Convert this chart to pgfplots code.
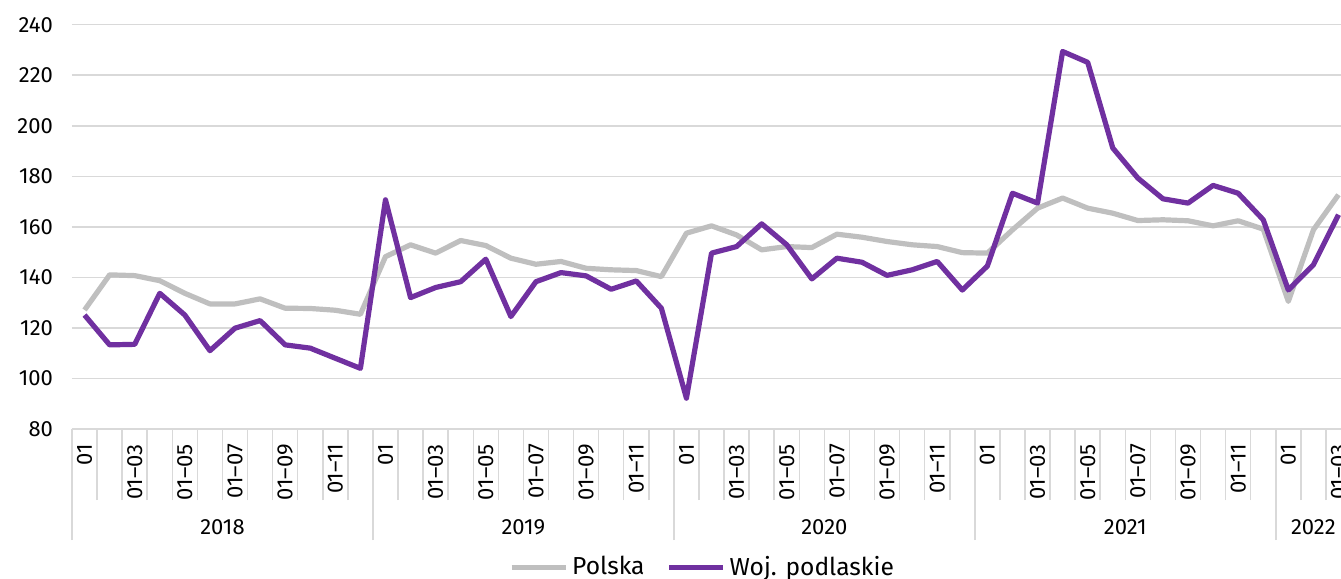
\documentclass[border=0pt]{standalone}
\usepackage{fontspec}
\setmainfont{Fira Sans}
\usepackage{pgfplots}
\pgfplotsset{compat=1.18}

\definecolor{pl}{HTML}{BFBFBF}
\definecolor{podl}{HTML}{7030A0}
\definecolor{gridc}{HTML}{D9D9D9}

\begin{document}
\begin{tikzpicture}
\begin{axis}[
  at={(0,0)}, anchor=south west,
  scale only axis,
  width=634.5pt, height=202.15pt,
  xmin=-0.5, xmax=50.1,
  ymin=80, ymax=240,
  ytick={80,100,...,240},
  ymajorgrids,
  major grid style={draw=gridc, line width=0.75pt},
  axis x line*=bottom,
  axis y line*=left,
  x axis line style={draw=gridc, line width=0.75pt, -},
  y axis line style={draw=none},
  tick align=outside,
  tick style={draw=gridc, line width=0.75pt},
  ytick style={draw=none},
  major tick length=0pt,
  minor tick length=35.5pt,
  xtick={0,2,...,50},
  xticklabels={01,01–03,01–05,01–07,01–09,01–11,
               01,01–03,01–05,01–07,01–09,01–11,
               01,01–03,01–05,01–07,01–09,01–11,
               01,01–03,01–05,01–07,01–09,01–11,
               01,01–03},
  minor xtick={-0.5,0.5,...,50.5},
  extra x ticks={-0.5,11.5,23.5,35.5,47.5},
  extra x tick labels={},
  extra x tick style={major tick length=55.5pt, tick style={draw=gridc, line width=0.75pt}},
  xticklabel style={rotate=90, anchor=east, font=\fontsize{11}{13}\selectfont},
  xticklabel shift=4pt,
  yticklabel style={font=\fontsize{11}{13}\selectfont, xshift=-6pt},
  /pgf/number format/assume math mode=true,
  legend style={at={(0.4976,-0.342)}, anchor=center, legend columns=2, draw=none, fill=none,
    font=\fontsize{12.3}{14}\selectfont,
    /tikz/every even column/.append style={column sep=9pt}},
  legend image code/.code={\draw[#1, line width=2.6pt] (0pt,0pt) -- (27pt,0pt);},
  clip mode=individual,
]
\addplot[draw=pl, line width=2.6pt, line join=round] coordinates {
(0,127.1) (1,141) (2,140.7) (3,138.7) (4,133.7) (5,129.5) (6,129.5) (7,131.5) (8,127.8) (9,127.7) (10,127) (11,125.4)
(12,148.2) (13,152.9) (14,149.6) (15,154.6) (16,152.6) (17,147.6) (18,145.2) (19,146.3) (20,143.6) (21,143) (22,142.7) (23,140.3)
(24,157.5) (25,160.4) (26,156.8) (27,150.9) (28,152.2) (29,151.8) (30,157.1) (31,155.9) (32,154.2) (33,152.9) (34,152.2) (35,149.8)
(36,149.6) (37,158.8) (38,167.4) (39,171.4) (40,167.4) (41,165.4) (42,162.5) (43,162.8) (44,162.4) (45,160.4) (46,162.4) (47,159.1)
(48,130.5) (49,158.8) (50,172.7)};
\addlegendentry{Polska}
\addplot[draw=podl, line width=2.6pt, line join=round] coordinates {
(0,125.1) (1,113.3) (2,113.5) (3,133.7) (4,125.1) (5,111.0) (6,119.9) (7,122.9) (8,113.3) (9,112) (10,108) (11,104)
(12,170.7) (13,132) (14,136) (15,138.3) (16,147.2) (17,124.5) (18,138.3) (19,141.9) (20,140.6) (21,135.3) (22,138.6) (23,127.8)
(24,92.2) (25,149.6) (26,152.2) (27,161.2) (28,152.9) (29,139.4) (30,147.6) (31,146) (32,140.8) (33,143) (34,146.3) (35,135)
(36,144.5) (37,173.3) (38,169.4) (39,229.4) (40,225.1) (41,191.2) (42,179.3) (43,171.1) (44,169.4) (45,176.4) (46,173.3) (47,162.8)
(48,135) (49,145) (50,164.8)};
\addlegendentry{Woj. podlaskie}
\node[font=\fontsize{11}{13}\selectfont] at (axis cs:5.5,80) [yshift=-49pt] {2018};
\node[font=\fontsize{11}{13}\selectfont] at (axis cs:17.5,80) [yshift=-49pt] {2019};
\node[font=\fontsize{11}{13}\selectfont] at (axis cs:29.5,80) [yshift=-49pt] {2020};
\node[font=\fontsize{11}{13}\selectfont] at (axis cs:41.5,80) [yshift=-49pt] {2021};
\node[font=\fontsize{11}{13}\selectfont] at (axis cs:49.0,80) [yshift=-49pt] {2022};
\end{axis}
\pgfresetboundingbox
\path[use as bounding box] (-36pt,-75pt) rectangle (634.5pt,214.5pt);
\end{tikzpicture}
\end{document}
